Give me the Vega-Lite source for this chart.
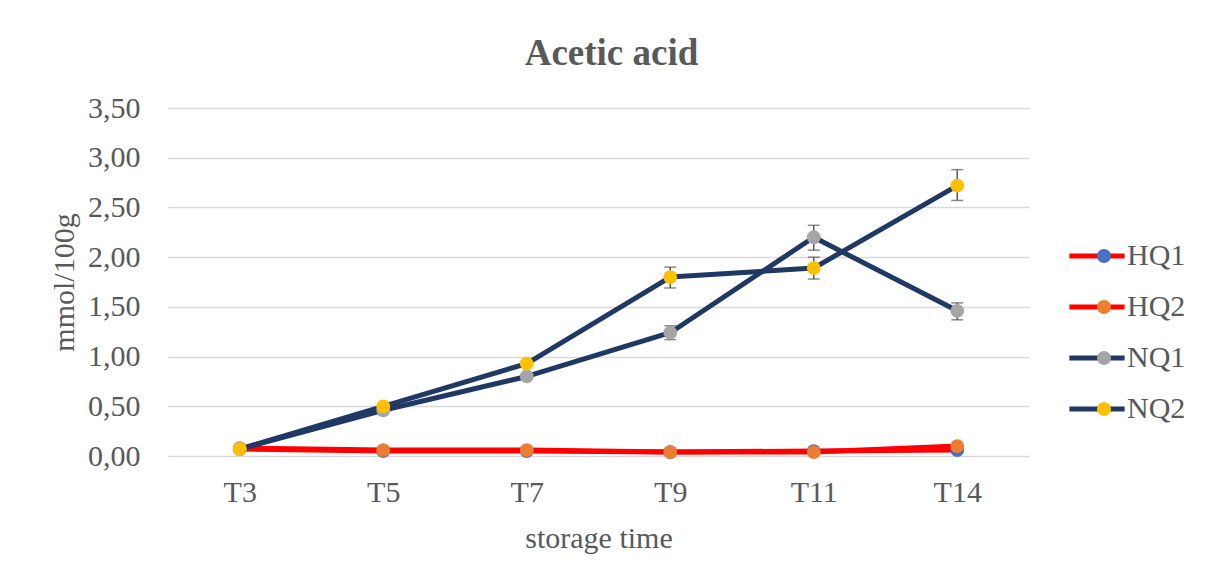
{
  "$schema": "https://vega.github.io/schema/vega-lite/v6.json",
  "width": 861,
  "height": 348,
  "autosize": {"type": "none"},
  "padding": {"left": 168, "top": 108, "right": 184, "bottom": 126},
  "background": "white",
  "title": {
    "text": "Acetic acid",
    "font": "Liberation Serif",
    "fontSize": 37,
    "fontWeight": "bold",
    "color": "#595959",
    "anchor": "middle",
    "frame": "group",
    "baseline": "alphabetic",
    "offset": 22,
    "dx": 13,
    "dy": 31
  },
  "config": {
    "view": {"stroke": null},
    "font": "Liberation Serif",
    "axis": {
      "labelFont": "Liberation Serif",
      "titleFont": "Liberation Serif",
      "labelFontSize": 30,
      "titleFontSize": 30,
      "labelColor": "#595959",
      "titleColor": "#595959",
      "titleFontWeight": "normal",
      "domain": false,
      "ticks": false
    },
    "legend": {
      "labelFont": "Liberation Serif",
      "labelFontSize": 30,
      "labelColor": "#595959"
    }
  },
  "datasets": {
    "points": [
      {"series": "HQ1", "time": "T3", "value": 0.07},
      {"series": "HQ1", "time": "T5", "value": 0.05},
      {"series": "HQ1", "time": "T7", "value": 0.05},
      {"series": "HQ1", "time": "T9", "value": 0.04},
      {"series": "HQ1", "time": "T11", "value": 0.05},
      {"series": "HQ1", "time": "T14", "value": 0.06},
      {"series": "HQ2", "time": "T3", "value": 0.08},
      {"series": "HQ2", "time": "T5", "value": 0.06},
      {"series": "HQ2", "time": "T7", "value": 0.06},
      {"series": "HQ2", "time": "T9", "value": 0.04},
      {"series": "HQ2", "time": "T11", "value": 0.04},
      {"series": "HQ2", "time": "T14", "value": 0.10},
      {"series": "NQ1", "time": "T3", "value": 0.07},
      {"series": "NQ1", "time": "T5", "value": 0.46},
      {"series": "NQ1", "time": "T7", "value": 0.80},
      {"series": "NQ1", "time": "T9", "value": 1.24},
      {"series": "NQ1", "time": "T11", "value": 2.20},
      {"series": "NQ1", "time": "T14", "value": 1.46},
      {"series": "NQ2", "time": "T3", "value": 0.07},
      {"series": "NQ2", "time": "T5", "value": 0.50},
      {"series": "NQ2", "time": "T7", "value": 0.93},
      {"series": "NQ2", "time": "T9", "value": 1.80},
      {"series": "NQ2", "time": "T11", "value": 1.89},
      {"series": "NQ2", "time": "T14", "value": 2.72}
    ],
    "errors": [
      {"series": "NQ1", "time": "T9", "lo": 1.17, "hi": 1.31},
      {"series": "NQ1", "time": "T11", "lo": 2.07, "hi": 2.32},
      {"series": "NQ1", "time": "T14", "lo": 1.37, "hi": 1.54},
      {"series": "NQ2", "time": "T9", "lo": 1.69, "hi": 1.90},
      {"series": "NQ2", "time": "T11", "lo": 1.78, "hi": 2.00},
      {"series": "NQ2", "time": "T14", "lo": 2.57, "hi": 2.88}
    ]
  },
  "layer": [
    {
      "data": {"name": "points"},
      "mark": {"type": "line", "strokeWidth": 5, "strokeCap": "round", "strokeJoin": "round"},
      "encoding": {
        "x": {
          "field": "time", "type": "ordinal",
          "scale": {"type": "point", "padding": 0.5, "domain": ["T3", "T5", "T7", "T9", "T11", "T14"]},
          "sort": ["T3", "T5", "T7", "T9", "T11", "T14"],
          "axis": {"title": "storage time", "labelAngle": 0, "labelPadding": 21, "titlePadding": 16, "grid": false}
        },
        "y": {
          "field": "value", "type": "quantitative",
          "scale": {"domain": [0, 3.5], "nice": false},
          "axis": {
            "title": "mmol/100g",
            "values": [0, 0.5, 1, 1.5, 2, 2.5, 3, 3.5],
            "labelExpr": "replace(format(datum.value, '.2f'), '.', ',')",
            "labelPadding": 28,
            "titlePadding": 8,
            "grid": true,
            "gridColor": "#d9d9d9",
            "gridWidth": 1.3
          }
        },
        "stroke": {
          "field": "series", "type": "nominal",
          "scale": {"range": ["#ff0000", "#ff0000", "#203864", "#203864"]},
          "legend": {
            "orient": "none",
            "legendX": 914,
            "legendY": 133,
            "title": null,
            "padding": 0,
            "symbolType": "M-6.9,0H6.9",
            "symbolSize": 64,
            "symbolStrokeWidth": 5,
            "symbolFillColor": "transparent",
            "labelOffset": 15,
            "rowPadding": 21
          }
        }
      }
    },
    {
      "data": {"name": "errors"},
      "mark": {"type": "rule", "color": "#595959", "strokeWidth": 1.5},
      "encoding": {
        "x": {"field": "time", "type": "ordinal"},
        "y": {"field": "lo", "type": "quantitative"},
        "y2": {"field": "hi"}
      }
    },
    {
      "data": {"name": "errors"},
      "mark": {"type": "tick", "color": "#595959", "size": 12, "thickness": 1.5, "orient": "horizontal"},
      "encoding": {
        "x": {"field": "time", "type": "ordinal"},
        "y": {"field": "lo", "type": "quantitative"}
      }
    },
    {
      "data": {"name": "errors"},
      "mark": {"type": "tick", "color": "#595959", "size": 12, "thickness": 1.5, "orient": "horizontal"},
      "encoding": {
        "x": {"field": "time", "type": "ordinal"},
        "y": {"field": "hi", "type": "quantitative"}
      }
    },
    {
      "data": {"name": "points"},
      "mark": {"type": "point", "filled": true, "opacity": 1, "size": 190, "shape": "circle"},
      "encoding": {
        "x": {"field": "time", "type": "ordinal"},
        "y": {"field": "value", "type": "quantitative"},
        "fill": {
          "field": "series", "type": "nominal",
          "scale": {"domain": ["HQ1", "HQ2", "NQ1", "NQ2"], "range": ["#4472c4", "#ed7d31", "#a5a5a5", "#ffc000"]},
          "legend": {
            "orient": "none",
            "legendX": 921,
            "legendY": 133,
            "title": null,
            "padding": 0,
            "symbolType": "circle",
            "symbolSize": 200,
            "symbolStrokeWidth": 0,
            "labelExpr": "''",
            "rowPadding": 21
          }
        }
      }
    }
  ]
}
